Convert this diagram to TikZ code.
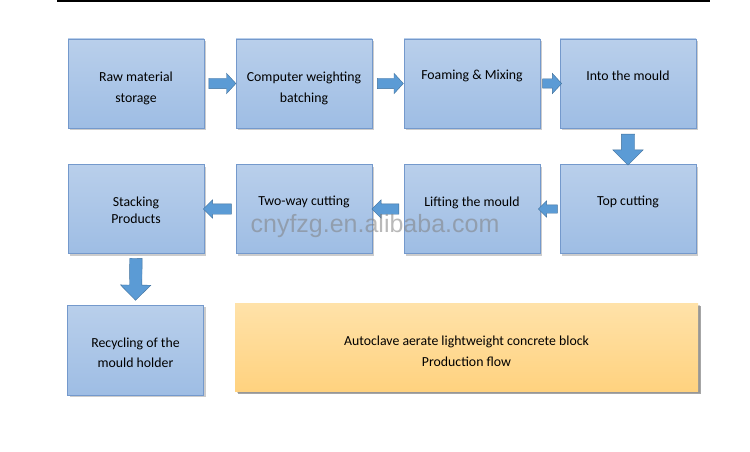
\documentclass[tikz,border=0pt]{standalone}
\usepackage{fontspec}
\setmainfont{Carlito}
\newfontfamily\marcaagua{Liberation Sans}
\usetikzlibrary{shapes.arrows,shadows}
\definecolor{cajaarriba}{HTML}{B9CFEB}
\definecolor{cajaabajo}{HTML}{9EBDE4}
\definecolor{cajaborde}{HTML}{7499CC}
\definecolor{flecha}{HTML}{5B9BD5}
\definecolor{flechaborde}{HTML}{41719C}
\definecolor{notaarriba}{HTML}{FFE2A9}
\definecolor{notaabajo}{HTML}{FFD27F}
\tikzset{
  caja/.style={draw=cajaborde, top color=cajaarriba, bottom color=cajaabajo,
    minimum width=136pt, minimum height=89pt, inner sep=0pt,
    drop shadow={shadow xshift=2pt, shadow yshift=-2pt, opacity=0.4}},
  nota/.style={caja, draw=none, top color=notaarriba, bottom color=notaabajo,
    minimum width=463pt, minimum height=88pt,
    drop shadow={shadow xshift=2.5pt, shadow yshift=-2.5pt, opacity=0.7}},
  texto/.style={align=center, font=\fontsize{13.8}{21}\selectfont},
  flechabloque/.style={single arrow, draw=flechaborde, fill=flecha,
    inner xsep=0pt, text height=0pt, text depth=0pt, sloped, allow upside down,
    single arrow tip angle=95},
}
\begin{document}
\begin{tikzpicture}[x=1pt, y=-1pt]
    \useasboundingbox (0,0) rectangle (750,452);

    % Linea superior
    \draw[line width=2.4pt] (57,1.2) -- (710,1.2);

    % Cajas del proceso
    \foreach \nombre/\x/\y in {materia/136/83.5, dosific/304/83.5, espumado/472/83.5, molde/628/83.5,
                               apilado/136/209, doscorte/304/209, levantar/472/209, cortesup/628/209}
        \node[caja] (\nombre) at (\x,\y) {};
    \node[caja, minimum height=90pt] (reciclaje) at (135.5,350) {};
    \node[nota] (titulo) at (466.5,347) {};

    % Textos
    \node[texto] (t-materia) at ([yshift=-5pt]materia.center) {Raw material\\storage};
    \node[texto] (t-dosific) at ([yshift=-5pt]dosific.center) {Computer weighting\\batching};
    \node[texto] (t-espumado) at ([yshift=7.5pt]espumado.center) {Foaming \& Mixing};
    \node[texto] (t-molde) at ([yshift=7.5pt]molde.center) {Into the mould};
    \node[texto, font=\fontsize{13.8}{17}\selectfont] (t-apilado) at ([yshift=-1.5pt]apilado.center) {Stacking\\Products};
    \node[texto] (t-doscorte) at ([yshift=7.5pt]doscorte.center) {Two-way cutting};
    \node[texto] (t-levantar) at ([yshift=6.5pt]levantar.center) {Lifting the mould};
    \node[texto] (t-cortesup) at ([yshift=7.5pt]cortesup.center) {Top cutting};
    \node[texto, font=\fontsize{13.8}{20}\selectfont] (t-reciclaje) at ([yshift=-2.5pt]reciclaje.center) {Recycling of the\\mould holder};
    \node[texto] (t-titulo) at ([yshift=-4pt]titulo.center) {Autoclave aerate lightweight concrete block\\Production flow};

    % Flechas de bloque
    \path (materia.east) -- node[flechabloque, minimum height=27pt, inner ysep=5pt, single arrow head extend=5pt] (f1) {} (dosific.west);
    \path (dosific.east) -- node[flechabloque, minimum height=26pt, inner ysep=5pt, single arrow head extend=5pt] (f2) {} (espumado.west);
    \path (espumado.east) -- node[flechabloque, minimum height=19pt, inner ysep=4.5pt, single arrow head extend=5.5pt] (f3) {} (molde.west);
    \path (molde.south) -- node[flechabloque, minimum height=31pt, inner ysep=6.5pt, single arrow head extend=8.5pt, single arrow tip angle=90] (f4) {} (cortesup.north);
    \path (cortesup.west) -- node[flechabloque, minimum height=19pt, inner ysep=4pt, single arrow head extend=4pt, single arrow tip angle=90] (f5) {} (levantar.east);
    \path (levantar.west) -- node[flechabloque, minimum height=27pt, inner ysep=5pt, single arrow head extend=4pt, single arrow tip angle=90] (f6) {} (doscorte.east);
    \path (doscorte.west) -- node[flechabloque, minimum height=28pt, inner ysep=5pt, single arrow head extend=4pt, single arrow tip angle=90] (f7) {} (apilado.east);
    \path (apilado.south) -- node[pos=0.44, flechabloque, minimum height=42pt, inner ysep=6pt, single arrow head extend=9pt, single arrow tip angle=90] (f8) {} (reciclaje.north);

    % Marca de agua
    \node[text=gray, text opacity=0.55, font=\marcaagua\fontsize{25}{25}\selectfont] (marca) at (375,226) {cnyfzg.en.alibaba.com};

\end{tikzpicture}
\end{document}
